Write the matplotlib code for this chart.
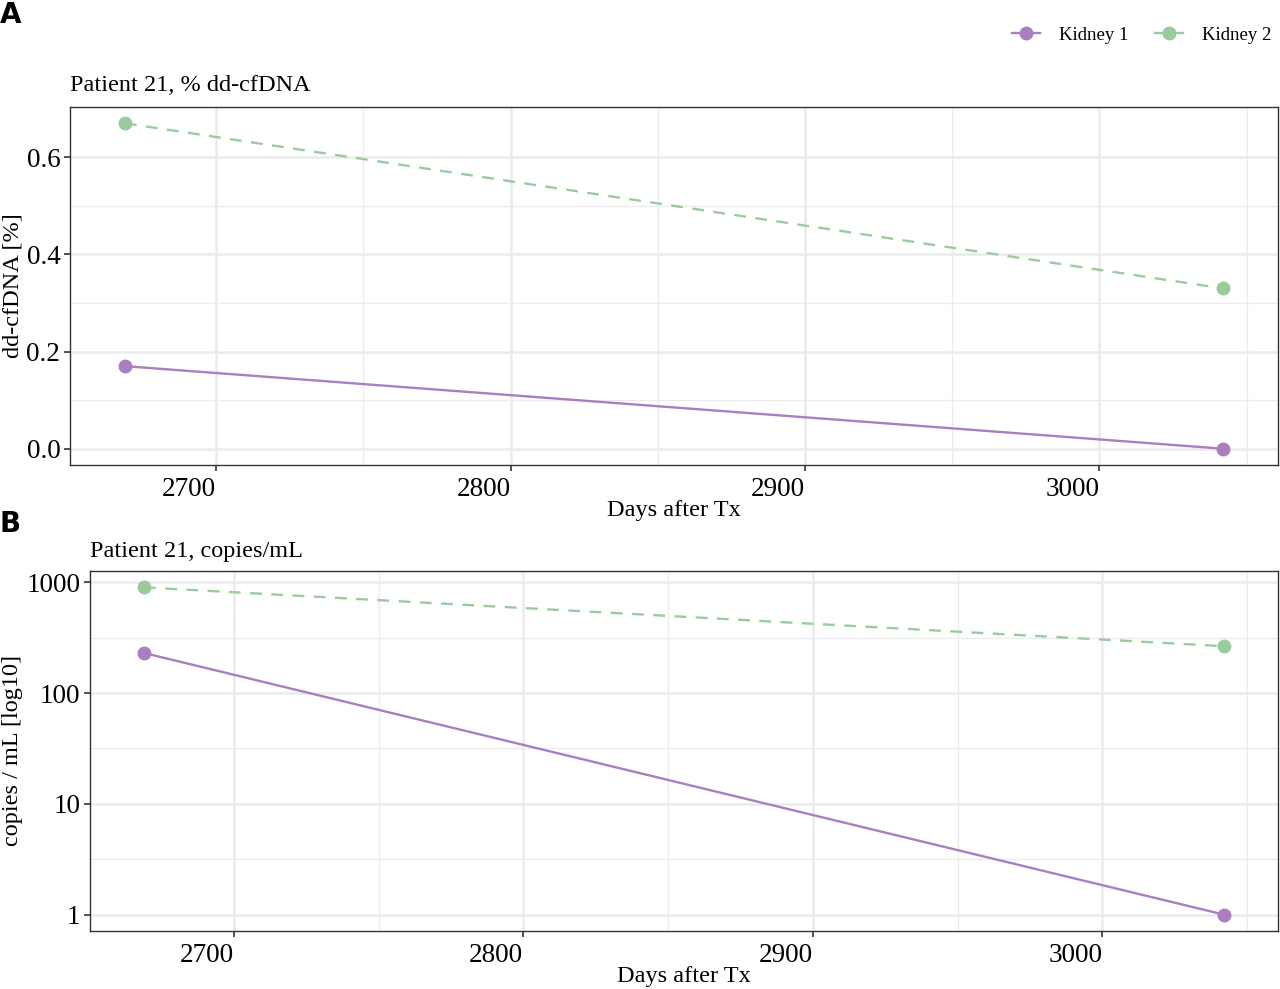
import matplotlib
matplotlib.use("Agg")
import matplotlib.pyplot as plt
from matplotlib.ticker import FixedLocator, NullFormatter
from matplotlib.lines import Line2D

plt.rcParams['font.family'] = ['Liberation Serif', 'DejaVu Serif']

# data
days = [2669, 3042]
kidney1_pct = [0.17, 0.0]
kidney2_pct = [0.67, 0.33]
kidney1_copies = [230, 1]
kidney2_copies = [900, 265]

purple = '#a97fc0'
green = '#99cb9d'
grid_col = '#ebebeb'
border = '#333333'

W, H = 1280, 989
fig = plt.figure(figsize=(W / 100, H / 100), dpi=100)


def px_axes(left, top, right, bottom):
    return fig.add_axes([left / W, 1 - bottom / H, (right - left) / W, (bottom - top) / H])


def style(ax):
    ax.set_facecolor('white')
    for s in ax.spines.values():
        s.set_color(border)
        s.set_linewidth(1.0)
    ax.tick_params(which='major', length=4, width=1.2, color=border,
                   labelsize=19.5, labelcolor='black', pad=3)
    ax.tick_params(axis='x', which='major', pad=5)
    ax.tick_params(which='minor', length=0)
    ax.grid(which='major', color=grid_col, linewidth=1.8, zorder=0)
    ax.grid(which='minor', color=grid_col, linewidth=0.9, zorder=0)
    ax.set_axisbelow(True)
    ax.xaxis.set_minor_locator(FixedLocator([2650, 2750, 2850, 2950, 3050]))
    ax.set_xlabel('Days after Tx', fontsize=17.5, labelpad=-2)


xticks = [2700, 2800, 2900, 3000]

# Panel A
axA = px_axes(70, 107, 1278, 465)
axA.plot(days, kidney1_pct, color=purple, lw=1.7, marker='o', ms=9, zorder=3)
axA.plot(days, kidney2_pct, color=green, lw=1.7, ls=(0, (5, 4)), marker='o', ms=9, zorder=3)
style(axA)
axA.yaxis.set_major_locator(FixedLocator([0.0, 0.2, 0.4, 0.6]))
axA.yaxis.set_minor_locator(FixedLocator([0.1, 0.3, 0.5]))
axA.set_yticklabels(['0.0', '0.2', '0.4', '0.6'])
# labels sit to the left of their tick, as in the original
axA.set_xticks(xticks, [str(t) for t in xticks], ha='right')
axA.set_ylabel('dd-cfDNA [%]', fontsize=17.5, labelpad=2)

# Panel B
axB = px_axes(90, 571, 1278, 931)
axB.plot(days, kidney1_copies, color=purple, lw=1.7, marker='o', ms=9, zorder=3)
axB.plot(days, kidney2_copies, color=green, lw=1.7, ls=(0, (5, 4)), marker='o', ms=9, zorder=3)
axB.set_yscale('log')
style(axB)
axB.yaxis.set_major_locator(FixedLocator([1, 10, 100, 1000]))
axB.yaxis.set_minor_locator(FixedLocator([10 ** 0.5, 10 ** 1.5, 10 ** 2.5]))
axB.yaxis.set_minor_formatter(NullFormatter())
axB.set_yticklabels(['1', '10', '100', '1000'])
axB.set_xticks(xticks, [str(t) for t in xticks], ha='right')
axB.set_ylabel('copies / mL [log10]', fontsize=17.5, labelpad=2)

# titles and panel letters
fig.text(70 / W, 1 - 86 / H, 'Patient 21, % dd-cfDNA', fontsize=17.5, va='center', ha='left')
fig.text(90 / W, 1 - 551 / H, 'Patient 21, copies/mL', fontsize=17.5, va='center', ha='left')
fig.text(0 / W, 1 - 15 / H, 'A', fontsize=20, fontweight='bold', family='DejaVu Sans',
         va='center', ha='left')
fig.text(0 / W, 1 - 524 / H, 'B', fontsize=20, fontweight='bold', family='DejaVu Sans',
         va='center', ha='left')

# legend
handles = [Line2D([], [], color=purple, lw=1.7, marker='o', ms=9),
           Line2D([], [], color=green, lw=1.7, marker='o', ms=9)]
fig.legend(handles, ['Kidney 1', 'Kidney 2'], loc='center right',
           bbox_to_anchor=(1271 / W, 1 - 35 / H), ncol=2, frameon=False,
           fontsize=13.5, handlelength=1.5, columnspacing=1.4, handletextpad=1.0,
           borderpad=0, borderaxespad=0)

fig.savefig('out.png', dpi=100)
